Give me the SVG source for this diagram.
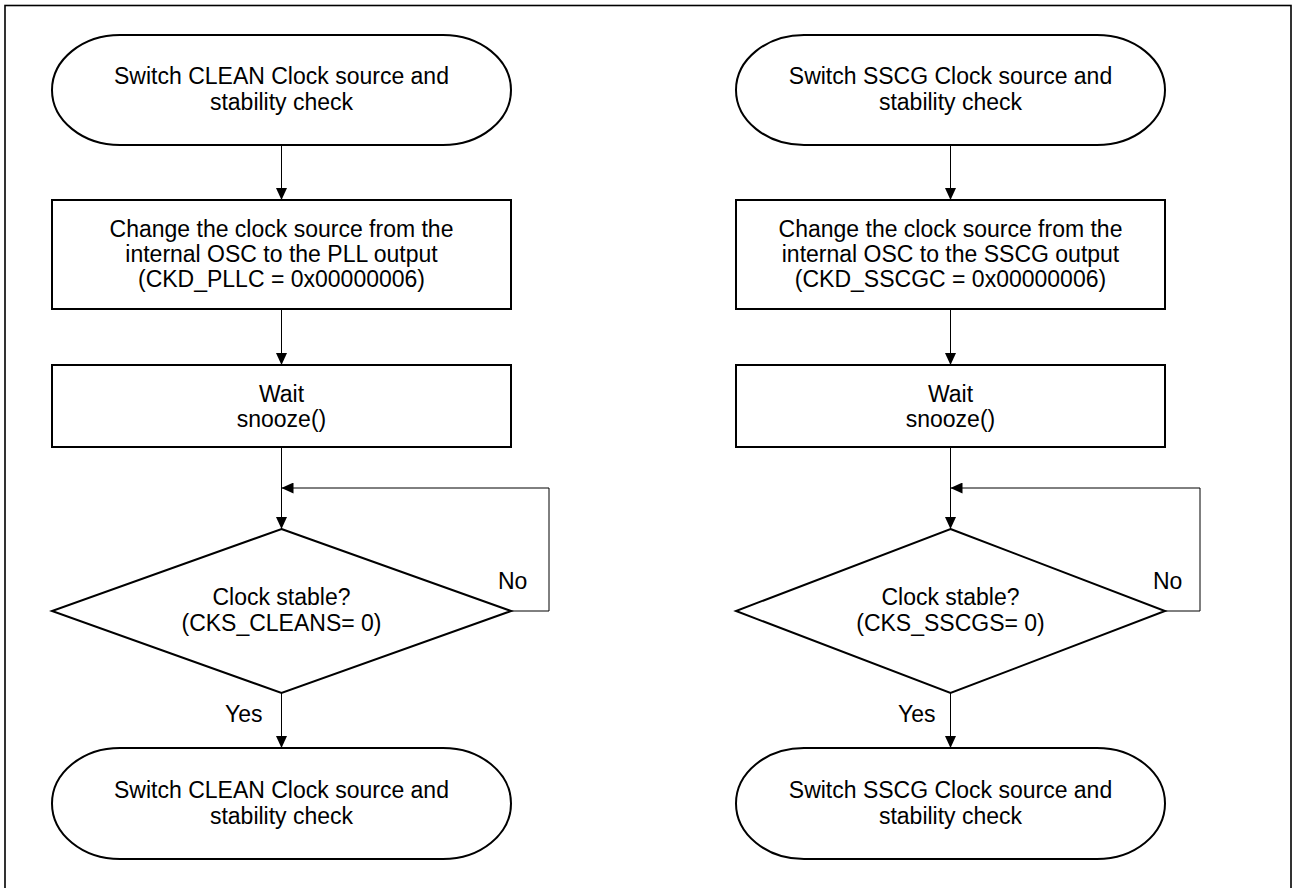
<svg xmlns="http://www.w3.org/2000/svg" width="1293" height="888" viewBox="0 0 1293 888">
  <style>
    .shape { fill: #ffffff; stroke: #000000; stroke-width: 2; }
    .frame { fill: none; stroke: #000000; stroke-width: 1.6; }
    .wire { fill: none; stroke: #000000; stroke-width: 1; }
    text { font-family: "Liberation Sans", Arial, sans-serif; font-size: 23px; fill: #000000; }
    .c { text-anchor: middle; }
  </style>
  <defs>
    <marker id="arrow" viewBox="0 0 12 11" markerWidth="12" markerHeight="11" refX="12" refY="5.5" orient="auto" markerUnits="userSpaceOnUse">
      <path d="M0,0 L12,5.5 L0,11 Z" fill="#000000"/>
    </marker>
  </defs>

  <rect class="frame" x="5" y="5.5" width="1286" height="890"/>

  <!-- connectors -->
  <g id="connectors">
    <path class="wire" d="M281.5,145 V200" marker-end="url(#arrow)"/>
    <path class="wire" d="M281.5,309 V365" marker-end="url(#arrow)"/>
    <path class="wire" d="M281.5,447 V529" marker-end="url(#arrow)"/>
    <path class="wire" d="M511,611 H549 V488 H281.5" marker-end="url(#arrow)"/>
    <path class="wire" d="M281.5,693 V748" marker-end="url(#arrow)"/>

    <path class="wire" d="M950.5,145 V200" marker-end="url(#arrow)"/>
    <path class="wire" d="M950.5,309 V365" marker-end="url(#arrow)"/>
    <path class="wire" d="M950.5,447 V529" marker-end="url(#arrow)"/>
    <path class="wire" d="M1165,611 H1200 V488 H950.5" marker-end="url(#arrow)"/>
    <path class="wire" d="M950.5,693 V748" marker-end="url(#arrow)"/>

    <text x="498" y="589">No</text>
    <text x="225" y="722">Yes</text>
    <text x="1153" y="589">No</text>
    <text x="898" y="722">Yes</text>
  </g>

  <!-- CLEAN clock flow -->
  <g id="clean-start">
    <rect class="shape" x="52" y="35" width="459" height="110" rx="68" ry="55"/>
    <text class="c" x="281.5" y="84">Switch CLEAN Clock source and</text>
    <text class="c" x="281.5" y="110">stability check</text>
  </g>
  <g id="clean-change">
    <rect class="shape" x="52" y="200" width="459" height="109"/>
    <text class="c" x="281.5" y="237">Change the clock source from the</text>
    <text class="c" x="281.5" y="262">internal OSC to the PLL output</text>
    <text class="c" x="281.5" y="287">(CKD_PLLC = 0x00000006)</text>
  </g>
  <g id="clean-wait">
    <rect class="shape" x="52" y="365" width="459" height="82"/>
    <text class="c" x="281.5" y="402">Wait</text>
    <text class="c" x="281.5" y="427">snooze()</text>
  </g>
  <g id="clean-check">
    <polygon class="shape" points="281.5,529 511,611 281.5,693 52,611"/>
    <text class="c" x="281.5" y="605">Clock stable?</text>
    <text class="c" x="281.5" y="631">(CKS_CLEANS= 0)</text>
  </g>
  <g id="clean-end">
    <rect class="shape" x="52" y="748" width="459" height="111" rx="68" ry="55.5"/>
    <text class="c" x="281.5" y="798">Switch CLEAN Clock source and</text>
    <text class="c" x="281.5" y="824">stability check</text>
  </g>

  <!-- SSCG clock flow -->
  <g id="sscg-start">
    <rect class="shape" x="736" y="35" width="429" height="110" rx="68" ry="55"/>
    <text class="c" x="950.5" y="84">Switch SSCG Clock source and</text>
    <text class="c" x="950.5" y="110">stability check</text>
  </g>
  <g id="sscg-change">
    <rect class="shape" x="736" y="200" width="429" height="109"/>
    <text class="c" x="950.5" y="237">Change the clock source from the</text>
    <text class="c" x="950.5" y="262">internal OSC to the SSCG output</text>
    <text class="c" x="950.5" y="287">(CKD_SSCGC = 0x00000006)</text>
  </g>
  <g id="sscg-wait">
    <rect class="shape" x="736" y="365" width="429" height="82"/>
    <text class="c" x="950.5" y="402">Wait</text>
    <text class="c" x="950.5" y="427">snooze()</text>
  </g>
  <g id="sscg-check">
    <polygon class="shape" points="950.5,529 1165,611 950.5,693 736,611"/>
    <text class="c" x="950.5" y="605">Clock stable?</text>
    <text class="c" x="950.5" y="631">(CKS_SSCGS= 0)</text>
  </g>
  <g id="sscg-end">
    <rect class="shape" x="736" y="748" width="429" height="111" rx="68" ry="55.5"/>
    <text class="c" x="950.5" y="798">Switch SSCG Clock source and</text>
    <text class="c" x="950.5" y="824">stability check</text>
  </g>
</svg>
